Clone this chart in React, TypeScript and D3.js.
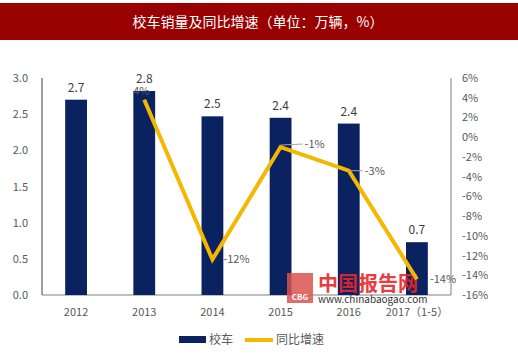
import React from "react";
import * as d3 from "d3";

const categories = ["2012", "2013", "2014", "2015", "2016", "2017（1-5）"];
const sales = [2.7, 2.82, 2.47, 2.45, 2.37, 0.73];
const salesLabels = ["2.7", "2.8", "2.5", "2.4", "2.4", "0.7"];
const growth: (number | null)[] = [null, 3.8, -12.4, -1.0, -3.4, -14.4];
const growthLabels = ["", "4%", "-12%", "-1%", "-3%", "-14%"];
const leftTicks = [0, 0.5, 1, 1.5, 2, 2.5, 3];
const rightTicks = [6, 4, 2, 0, -2, -4, -6, -8, -10, -12, -14, -16];

const W = 518, H = 356;
const L = 42, R = 451, T = 78, B = 295;
const font = "'Noto Sans CJK SC', 'Open Sans', sans-serif";

export default function App() {
  const x = d3.scaleBand<string>().domain(categories).range([L, R]).paddingInner(0.68).paddingOuter(0.34);
  const yL = d3.scaleLinear().domain([0, 3]).range([B, T]);
  const yR = d3.scaleLinear().domain([-16, 6]).range([B, T]);
  const cx = (c: string) => (x(c) ?? 0) + x.bandwidth() / 2;

  const pts = categories
    .map((c, i) => ({ c, v: growth[i], i }))
    .filter((p) => p.v !== null) as { c: string; v: number; i: number }[];
  const line = d3.line<{ c: string; v: number }>().x((d) => cx(d.c)).y((d) => yR(d.v));

  const offsets: Record<number, [number, number]> = {
    1: [-11, -5],
    2: [11, 4],
    3: [24, 1],
    4: [16, 4],
    5: [13, 4],
  };

  return (
    <svg width={W} height={H} style={{ position: "absolute", left: 0, top: 0, background: "#fff" }} fontFamily={font}>
      <rect x={0} y={0} width={W} height={H} fill="#fff" />
      <rect x={0} y={3} width={W} height={37} fill="#990000" />
      <text x={258} y={27} textAnchor="middle" fill="#fff" fontSize={14}>校车销量及同比增速（单位：万辆，%）</text>

      {/* axes */}
      <line x1={L} x2={L} y1={T} y2={B} stroke="#404040" strokeWidth={1} />
      <line x1={R} x2={R} y1={T} y2={B} stroke="#808080" strokeWidth={1} />
      <line x1={L} x2={R} y1={B} y2={B} stroke="#808080" strokeWidth={1} />
      {leftTicks.map((t) => (
        <text key={t} x={28} y={yL(t) + 4} textAnchor="end" fontSize={11} fill="#595959">{t.toFixed(1)}</text>
      ))}
      {rightTicks.map((t) => (
        <text key={t} x={462} y={yR(t) + 4} textAnchor="start" fontSize={11} fill="#595959">{t}%</text>
      ))}
      {categories.map((c) => (
        <text key={c} x={cx(c)} y={316} textAnchor="middle" fontSize={11} fill="#595959">{c}</text>
      ))}

      {/* bars */}
      {categories.map((c, i) => (
        <rect key={c} x={x(c)} y={yL(sales[i])} width={x.bandwidth()} height={B - yL(sales[i])} fill="#0B2260" />
      ))}
      {categories.map((c, i) => (
        <text key={c} x={cx(c)} y={yL(sales[i]) - 8} textAnchor="middle" fontSize={12} fill="#404040">{salesLabels[i]}</text>
      ))}

      {/* watermark */}
      <g>
        <rect x={287} y={273} width={26} height={30} fill="#d9534f" opacity={0.85} />
        <text x={300} y={300} textAnchor="middle" fontSize={8} fontWeight="bold" fill="#fff">CBG</text>
        <text x={318} y={291} fontSize={20} fontWeight="bold" fill="#e8262a" opacity={0.9}>中国报告网</text>
        <text x={318} y={303} fontSize={10} fill="#333">www.chinabaogao.com</text>
      </g>

      {/* line */}
      <path d={line(pts) ?? ""} fill="none" stroke="#F5B700" strokeWidth={4} strokeLinejoin="miter" />

      {/* leader lines */}
      {pts.filter((p) => p.i === 3 || p.i === 4).map((p) => (
        <line key={p.c} x1={cx(p.c)} x2={cx(p.c) + (p.i === 3 ? 22 : 14)} y1={yR(p.v) - (p.i === 3 ? 2 : 0)} y2={yR(p.v) - (p.i === 3 ? 3 : 0)} stroke="#a6a6a6" strokeWidth={1} />
      ))}
      {pts.map((p) => {
        const [dx, dy] = offsets[p.i];
        return (
          <text key={p.c} x={cx(p.c) + dx} y={yR(p.v) + dy} textAnchor="start" fontSize={11} fill="#595959">{growthLabels[p.i]}</text>
        );
      })}

      {/* legend */}
      <rect x={179} y={336} width={27} height={7} fill="#0B2260" />
      <text x={209} y={344} fontSize={12} fill="#595959">校车</text>
      <line x1={245} x2={273} y1={340} y2={340} stroke="#F5B700" strokeWidth={4} />
      <text x={276} y={344} fontSize={12} fill="#595959">同比增速</text>
    </svg>
  );
}
